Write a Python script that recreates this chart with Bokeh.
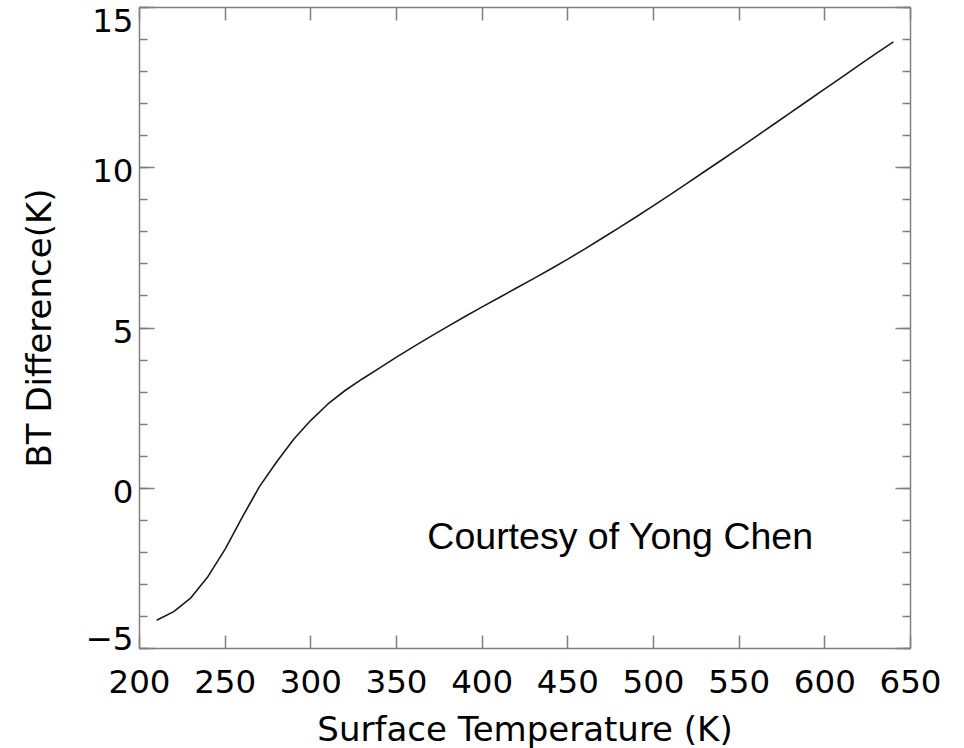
from bokeh.plotting import figure
from bokeh.models import LinearAxis, SingleIntervalTicker, FixedTicker, Range1d, Label
from bokeh.embed import file_html
from bokeh.resources import INLINE

# Surface temperature (K)
temperature = [210, 220, 230, 240, 250, 260, 270, 280, 290, 300,
               310, 320, 330, 340, 350, 360, 370, 380, 390, 400,
               410, 420, 430, 440, 450, 460, 470, 480, 490, 500,
               510, 520, 530, 540, 550, 560, 570, 580, 590, 600,
               610, 620, 630, 640]
# BT difference (K)
bt_difference = [-4.12, -3.85, -3.42, -2.75, -1.90, -0.90, 0.05, 0.82, 1.53, 2.12,
                 2.63, 3.05, 3.41, 3.75, 4.09, 4.42, 4.74, 5.05, 5.36, 5.66,
                 5.95, 6.25, 6.54, 6.84, 7.15, 7.47, 7.80, 8.13, 8.47, 8.82,
                 9.17, 9.53, 9.89, 10.25, 10.61, 10.98, 11.35, 11.72, 12.09, 12.46,
                 12.83, 13.20, 13.57, 13.93]

y_ticks = [-5, 0, 5, 10, 15]
y_tick_labels = ["\u22125", "0", "5", "10", "15"]

x_label = "Surface Temperature (K)"
y_label = "BT Difference(K)"
note = "Courtesy of Yong Chen"

AX = "#7f7f7f"
FONT = "DejaVu Sans"
FRAME_H = 641
Y0, Y1 = -5, 15

p = figure(frame_width=771, frame_height=FRAME_H,
           x_range=Range1d(200, 650), y_range=Range1d(Y0, Y1),
           output_backend="svg", toolbar_location=None,
           min_border_left=139, min_border_right=46,
           min_border_top=7, min_border_bottom=10,
           x_axis_label=x_label)
p.grid.visible = False
p.outline_line_color = AX
p.background_fill_color = "white"
p.border_fill_color = "white"


def style(ax, is_x, labels=True):
    ax.axis_line_color = AX
    ax.axis_line_width = 1.5
    ax.major_tick_line_color = AX
    ax.minor_tick_line_color = None if is_x else AX
    ax.major_tick_line_width = 1.5
    ax.minor_tick_line_width = 1.5
    ax.major_tick_out = 0
    ax.minor_tick_out = 0
    ax.major_tick_in = 13 if is_x else 15
    ax.minor_tick_in = 8
    ax.major_label_text_font = FONT
    ax.major_label_text_color = "black" if labels else None
    ax.major_label_text_font_size = "32.5px" if labels else "0px"
    ax.axis_label_text_font = FONT
    ax.axis_label_text_font_style = "normal"
    ax.axis_label_text_font_size = "34px"
    ax.axis_label_text_color = "black"


p.xaxis.ticker = SingleIntervalTicker(interval=50, num_minor_ticks=0)
p.yaxis.ticker = SingleIntervalTicker(interval=5, num_minor_ticks=5)
style(p.xaxis[0], True)
style(p.yaxis[0], False, labels=False)
p.yaxis.major_label_standoff = 0
p.xaxis.major_label_standoff = 21
p.xaxis.axis_label_standoff = 13

top = LinearAxis(ticker=SingleIntervalTicker(interval=50, num_minor_ticks=0))
style(top, True, labels=False)
top.major_label_standoff = 0
p.add_layout(top, "above")
right = LinearAxis(ticker=SingleIntervalTicker(interval=5, num_minor_ticks=5))
style(right, False, labels=False)
right.major_label_standoff = 0
p.add_layout(right, "right")

# Label-only left axis: the end labels sit inside the frame's height,
# the others a little below their ticks, as in the original.
units_per_px = (Y1 - Y0) / FRAME_H
lo, hi = min(y_ticks), max(y_ticks)
label_pos, overrides = [], {}
for v, s in zip(y_ticks, y_tick_labels):
    shift_px = 10 if v == lo else (-12.5 if v == hi else -3)
    pos = round(v + shift_px * units_per_px, 6)
    label_pos.append(pos)
    overrides[pos] = s
lab_axis = LinearAxis(ticker=FixedTicker(ticks=label_pos, minor_ticks=[]),
                      axis_label=y_label)
style(lab_axis, False)
lab_axis.axis_line_color = None
lab_axis.major_tick_line_color = None
lab_axis.minor_tick_line_color = None
lab_axis.major_label_overrides = overrides
lab_axis.major_label_standoff = 6
lab_axis.axis_label_standoff = 24
p.add_layout(lab_axis, "left")

p.line(temperature, bt_difference, line_color="#1a1a1a", line_width=1.6)

p.add_layout(Label(x=368, y=-1.48, text=note, text_font="Liberation Sans",
                   text_font_size="37.5px", text_color="black",
                   text_baseline="alphabetic", text_align="left"))

open("out.html", "w").write(file_html(p, INLINE))
